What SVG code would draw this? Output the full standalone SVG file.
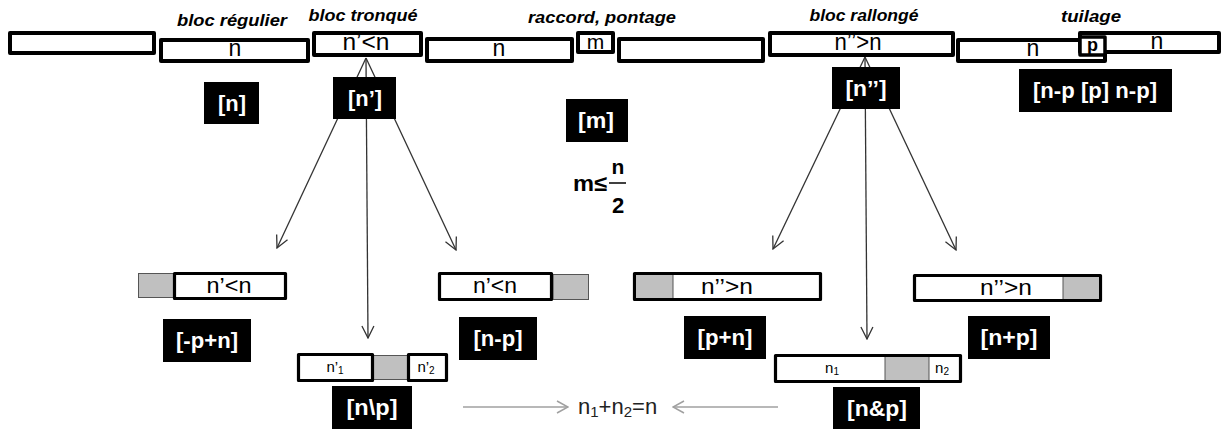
<svg xmlns="http://www.w3.org/2000/svg" width="1226" height="429" viewBox="0 0 1226 429">
<style>
text{font-family:"Liberation Sans",Arial,sans-serif;}
.blk{fill:#fff;stroke:#000;stroke-width:4;stroke-linejoin:round;}
.box{fill:#fff;stroke:#000;stroke-width:3.2;stroke-linejoin:round;}
.gray{fill:#c0c0c0;stroke:#555;stroke-width:1;}
.div{stroke:#555;stroke-width:1;}
.lab{fill:#000;}
.lt{fill:#fff;font-weight:bold;font-size:22px;text-anchor:middle;}
.bt{fill:#000;font-size:23px;text-anchor:middle;}
.st{fill:#000;font-size:15px;text-anchor:middle;}
.tt{fill:#000;font-style:italic;font-weight:bold;font-size:16px;text-anchor:middle;}
.con{fill:none;stroke:#333;stroke-width:1.3;marker-end:url(#ah);}
.gcon{fill:none;stroke:#a0a0a0;stroke-width:1.5;marker-end:url(#gah);}
</style>
<defs>
<marker id="ah" markerUnits="userSpaceOnUse" viewBox="0 0 14 14" markerWidth="14" markerHeight="14" refX="13" refY="7" orient="auto">
<path d="M1,1 L13,7 L1,13" fill="none" stroke="#333" stroke-width="1.3"/>
</marker>
<marker id="gah" markerUnits="userSpaceOnUse" viewBox="0 0 14 14" markerWidth="14" markerHeight="14" refX="13" refY="7" orient="auto">
<path d="M2,1 L13,7 L2,13" fill="none" stroke="#a0a0a0" stroke-width="1.5"/>
</marker>
</defs>

<g id="titles">
<text class="tt" x="232" y="26" textLength="110" lengthAdjust="spacingAndGlyphs">bloc régulier</text>
<text class="tt" x="363" y="21" textLength="109" lengthAdjust="spacingAndGlyphs">bloc tronqué</text>
<text class="tt" x="602" y="23" textLength="148" lengthAdjust="spacingAndGlyphs">raccord, pontage</text>
<text class="tt" x="864" y="21" textLength="109" lengthAdjust="spacingAndGlyphs">bloc rallongé</text>
<text class="tt" x="1091" y="22" textLength="60" lengthAdjust="spacingAndGlyphs">tuilage</text>
</g>

<g id="connectors">
<line class="con" x1="366" y1="58" x2="277" y2="248"/>
<line class="con" x1="366" y1="58" x2="368" y2="338"/>
<line class="con" x1="366" y1="58" x2="456" y2="250"/>
<line class="con" x1="865" y1="57" x2="773" y2="249"/>
<line class="con" x1="865" y1="57" x2="867" y2="339"/>
<line class="con" x1="865" y1="57" x2="956" y2="250"/>
<line class="gcon" x1="463" y1="407" x2="568" y2="407"/>
<line class="gcon" x1="778" y1="407" x2="673" y2="407"/>
</g>

<g id="block-start"><rect class="blk" x="10" y="33" width="144" height="20"/></g>
<g id="block-regular"><rect class="blk" x="161" y="40" width="147" height="21"/><text class="bt" x="235" y="56">n</text></g>
<g id="block-truncated"><rect class="blk" x="314" y="33" width="107" height="22"/><text class="bt" x="366" y="50" textLength="47" lengthAdjust="spacingAndGlyphs">n’&lt;n</text></g>
<g id="block-n2"><rect class="blk" x="427" y="39" width="145" height="22"/><text class="bt" x="499" y="56">n</text></g>
<g id="block-m"><rect class="blk" x="578" y="33" width="35" height="19"/><text class="bt" x="595.5" y="49" style="font-size:21px">m</text></g>
<g id="block-after-m"><rect class="blk" x="619" y="39" width="144" height="22"/></g>
<g id="block-extended"><rect class="blk" x="770" y="33" width="183" height="22"/><text class="bt" x="858" y="50" textLength="47" lengthAdjust="spacingAndGlyphs">n’’&gt;n</text></g>
<g id="block-tile-a"><rect class="blk" x="958" y="40" width="147" height="21"/><text class="bt" x="1033" y="56">n</text></g>
<g id="block-tile-b"><rect class="blk" x="1080" y="33" width="139" height="19"/><text class="bt" x="1157" y="49">n</text></g>
<g id="block-tile-p"><rect class="blk" x="1080" y="37" width="25" height="18" style="stroke-width:3.5"/><text class="bt" x="1092.5" y="51" style="font-size:18px;font-weight:bold">p</text></g>

<g id="label-n"><rect class="lab" x="204" y="82" width="55" height="42"/><text class="lt" x="232" y="111" textLength="28" lengthAdjust="spacingAndGlyphs">[n]</text></g>
<g id="label-n1"><rect class="lab" x="333" y="77" width="63" height="42"/><text class="lt" x="365" y="106" textLength="34" lengthAdjust="spacingAndGlyphs">[n’]</text></g>
<g id="label-m"><rect class="lab" x="566" y="99" width="62" height="43"/><text class="lt" x="596" y="128" textLength="36" lengthAdjust="spacingAndGlyphs">[m]</text></g>
<g id="label-n2"><rect class="lab" x="832" y="67" width="68" height="42"/><text class="lt" x="866" y="96" textLength="41" lengthAdjust="spacingAndGlyphs">[n’’]</text></g>
<g id="label-tile"><rect class="lab" x="1019" y="69" width="153" height="43"/><text class="lt" x="1095" y="98" textLength="124" lengthAdjust="spacingAndGlyphs">[n-p [p] n-p]</text></g>

<g id="condition">
<text x="573" y="191" style="font-size:22px;font-weight:bold" textLength="34" lengthAdjust="spacingAndGlyphs">m≤</text>
<text x="618" y="174" style="font-size:21px;font-weight:bold;text-anchor:middle">n</text>
<line x1="609" y1="183" x2="626" y2="183" stroke="#000" stroke-width="1.5"/>
<text x="618" y="213" style="font-size:22px;font-weight:bold;text-anchor:middle">2</text>
</g>

<g id="bar-left-pad">
<rect class="gray" x="138.5" y="273.5" width="35" height="24"/>
<rect class="box" x="174.5" y="273.5" width="111" height="25"/>
<text class="bt" x="229" y="293" style="font-size:22px" textLength="45" lengthAdjust="spacingAndGlyphs">n’&lt;n</text>
</g>
<g id="label-mpn"><rect class="lab" x="163" y="319" width="88" height="43"/><text class="lt" x="207" y="348" textLength="62" lengthAdjust="spacingAndGlyphs">[-p+n]</text></g>

<g id="bar-right-pad">
<rect class="gray" x="553" y="274.5" width="35.5" height="25"/>
<rect class="box" x="439.5" y="273.5" width="112" height="26"/>
<text class="bt" x="495" y="293" style="font-size:22px" textLength="44" lengthAdjust="spacingAndGlyphs">n’&lt;n</text>
</g>
<g id="label-nmp"><rect class="lab" x="459" y="317" width="78" height="43"/><text class="lt" x="498" y="346" textLength="49" lengthAdjust="spacingAndGlyphs">[n-p]</text></g>

<g id="bar-split">
<rect class="gray" x="373" y="355.5" width="35" height="24"/>
<rect class="box" x="298.5" y="354.5" width="74" height="26"/>
<rect class="box" x="408.5" y="354.5" width="38" height="26"/>
<text class="st" x="335" y="372">n’<tspan font-size="10" dy="2">1</tspan></text>
<text class="st" x="426" y="372">n’<tspan font-size="10" dy="2">2</tspan></text>
</g>
<g id="label-nbp"><rect class="lab" x="332" y="386" width="80" height="43"/><text class="lt" x="372" y="415" textLength="51" lengthAdjust="spacingAndGlyphs">[n\p]</text></g>

<g id="bar-ext-left">
<rect class="box" x="634.5" y="273.5" width="186" height="26"/>
<rect x="636" y="275" width="37" height="23" fill="#c0c0c0"/>
<line class="div" x1="673" y1="275" x2="673" y2="298"/>
<text class="bt" x="727" y="294" style="font-size:22px" textLength="52" lengthAdjust="spacingAndGlyphs">n’’&gt;n</text>
</g>
<g id="label-ppn"><rect class="lab" x="684" y="316" width="82" height="43"/><text class="lt" x="725" y="345" textLength="55" lengthAdjust="spacingAndGlyphs">[p+n]</text></g>

<g id="bar-ext-right">
<rect class="box" x="914.5" y="275.5" width="186" height="25"/>
<rect x="1063" y="277" width="36" height="22" fill="#c0c0c0"/>
<line class="div" x1="1063" y1="277" x2="1063" y2="299"/>
<text class="bt" x="1006" y="295" style="font-size:22px" textLength="52" lengthAdjust="spacingAndGlyphs">n’’&gt;n</text>
</g>
<g id="label-npp"><rect class="lab" x="968" y="316" width="82" height="43"/><text class="lt" x="1009" y="345" textLength="57" lengthAdjust="spacingAndGlyphs">[n+p]</text></g>

<g id="bar-ext-split">
<rect class="box" x="775.5" y="355.5" width="185" height="26"/>
<rect x="885" y="357" width="44" height="23" fill="#c0c0c0"/>
<line class="div" x1="885" y1="357" x2="885" y2="380"/>
<line class="div" x1="929" y1="357" x2="929" y2="380"/>
<text class="st" x="832" y="373">n<tspan font-size="10" dy="2">1</tspan></text>
<text class="st" x="942" y="373">n<tspan font-size="10" dy="2">2</tspan></text>
</g>
<g id="label-nap"><rect class="lab" x="833" y="387" width="87" height="43"/><text class="lt" x="877" y="416" textLength="60" lengthAdjust="spacingAndGlyphs">[n&amp;p]</text></g>

<g id="sum">
<text x="578" y="414" style="font-size:22px;fill:#222">n<tspan font-size="15" dy="3">1</tspan><tspan dy="-3">+n</tspan><tspan font-size="15" dy="3">2</tspan><tspan dy="-3">=n</tspan></text>
</g>
</svg>
